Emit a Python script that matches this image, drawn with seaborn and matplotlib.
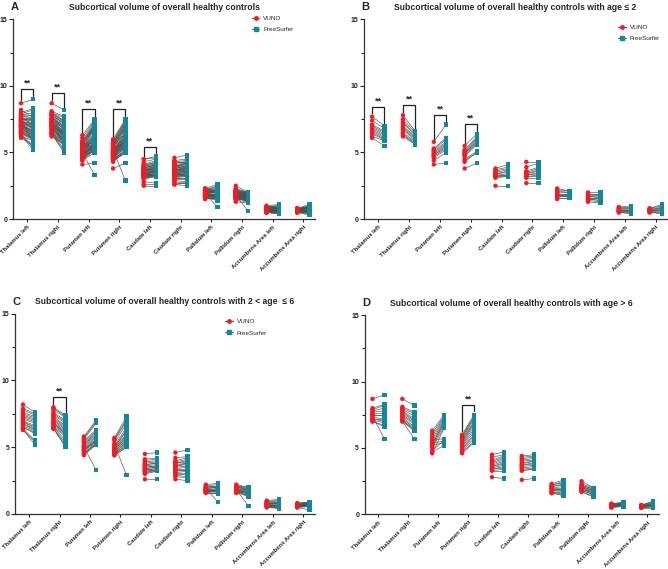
import numpy as np
import pandas as pd
import matplotlib.pyplot as plt
import seaborn as sns
from matplotlib.lines import Line2D
from matplotlib.ticker import MultipleLocator

# Paired subcortical volumes, VUNO vs FreeSurfer, one row per region
regions = ['Thalamus left', 'Thalamus right', 'Putamen left', 'Putamen right',
           'Caudate left', 'Caudate right', 'Pallidum left', 'Pallidum right',
           'Accumbens Area left', 'Accumbens Area right']

# age <= 2
vuno_b = [
    [7.7, 7.4, 7.1, 7.0, 6.9, 6.8, 6.7, 6.6, 6.5, 6.4, 6.2, 6.1],
    [7.8, 7.5, 7.3, 7.2, 7.0, 6.9, 6.8, 6.7, 6.5, 6.4, 6.3, 6.2],
    [5.8, 5.3, 5.2, 5.1, 5.0, 4.9, 4.8, 4.8, 4.7, 4.6, 4.4, 4.1],
    [5.5, 5.2, 5.1, 5.0, 4.9, 4.9, 4.8, 4.7, 4.5, 4.4, 4.3, 3.8],
    [3.8, 3.7, 3.6, 3.5, 3.4, 3.4, 3.3, 3.3, 3.2, 3.2, 3.1, 2.5],
    [4.3, 3.9, 3.6, 3.5, 3.4, 3.4, 3.3, 3.3, 3.2, 3.2, 3.1, 2.7],
    [2.3, 2.2, 2.1, 2.0, 1.9, 1.9, 1.8, 1.8, 1.7, 1.7, 1.6, 1.5],
    [2.0, 1.9, 1.9, 1.8, 1.7, 1.7, 1.6, 1.6, 1.5, 1.5, 1.4, 1.3],
    [0.9, 0.85, 0.8, 0.75, 0.7, 0.7, 0.65, 0.6, 0.6, 0.55, 0.5, 0.5],
    [0.8, 0.8, 0.75, 0.7, 0.7, 0.65, 0.6, 0.6, 0.55, 0.55, 0.5, 0.5],
]
fs_b = [
    [7.0, 6.8, 6.6, 6.5, 6.4, 6.3, 6.2, 6.1, 6.0, 5.95, 5.9, 5.5],
    [6.6, 6.5, 6.4, 6.3, 6.2, 6.1, 6.0, 5.9, 5.8, 5.7, 5.65, 5.6],
    [7.1, 6.1, 6.0, 5.8, 5.7, 5.6, 5.5, 5.4, 5.3, 5.2, 5.0, 4.2],
    [6.4, 6.2, 6.1, 6.0, 5.9, 5.8, 5.7, 5.6, 5.1, 5.0, 5.0, 4.2],
    [4.1, 3.9, 3.8, 3.7, 3.6, 3.5, 3.4, 3.3, 3.3, 3.2, 3.2, 2.5],
    [4.3, 4.2, 3.9, 3.8, 3.7, 3.6, 3.5, 3.4, 3.3, 3.2, 3.1, 2.7],
    [2.1, 2.1, 2.0, 2.0, 1.9, 1.9, 1.8, 1.8, 1.7, 1.7, 1.6, 1.6],
    [2.0, 1.9, 1.8, 1.8, 1.7, 1.6, 1.6, 1.5, 1.4, 1.4, 1.3, 1.2],
    [1.0, 0.9, 0.85, 0.8, 0.75, 0.7, 0.65, 0.6, 0.55, 0.5, 0.45, 0.4],
    [1.1, 1.0, 0.9, 0.85, 0.8, 0.75, 0.7, 0.65, 0.6, 0.5, 0.45, 0.4],
]

# 2 < age <= 6
vuno_c = [
    [8.2, 7.9, 7.8, 7.6, 7.5, 7.4, 7.3, 7.2, 7.1, 7.0, 6.9, 6.9, 6.8, 6.7, 6.6, 6.5, 6.5, 6.4, 6.3, 6.3],
    [8.0, 7.9, 7.8, 7.6, 7.5, 7.4, 7.3, 7.2, 7.1, 7.0, 6.9, 6.8, 6.8, 6.7, 6.6, 6.5, 6.5, 6.4, 6.4, 6.4],
    [5.8, 5.7, 5.6, 5.5, 5.4, 5.3, 5.2, 5.2, 5.1, 5.0, 5.0, 4.9, 4.9, 4.8, 4.8, 4.7, 4.6, 4.5, 4.5, 4.4],
    [5.7, 5.6, 5.5, 5.3, 5.2, 5.1, 5.0, 5.0, 4.9, 4.9, 4.8, 4.8, 4.7, 4.7, 4.6, 4.6, 4.5, 4.5, 4.4, 4.4],
    [4.5, 4.1, 4.0, 3.9, 3.8, 3.7, 3.7, 3.6, 3.5, 3.5, 3.4, 3.4, 3.3, 3.3, 3.2, 3.2, 3.1, 3.1, 3.0, 2.6],
    [4.6, 4.2, 4.0, 3.9, 3.8, 3.8, 3.7, 3.6, 3.6, 3.5, 3.4, 3.4, 3.3, 3.2, 3.1, 3.1, 3.0, 2.9, 2.8, 2.6],
    [2.2, 2.1, 2.1, 2.0, 2.0, 1.9, 1.9, 1.9, 1.8, 1.8, 1.8, 1.8, 1.7, 1.7, 1.7, 1.7, 1.6, 1.6, 1.6, 1.6],
    [2.2, 2.1, 2.1, 2.0, 2.0, 2.0, 1.9, 1.9, 1.9, 1.8, 1.8, 1.8, 1.8, 1.7, 1.7, 1.7, 1.7, 1.6, 1.6, 1.6],
    [1.0, 0.95, 0.9, 0.9, 0.85, 0.8, 0.8, 0.75, 0.75, 0.7, 0.7, 0.7, 0.65, 0.65, 0.6, 0.6, 0.55, 0.55, 0.5, 0.5],
    [0.8, 0.8, 0.75, 0.75, 0.7, 0.7, 0.7, 0.65, 0.65, 0.65, 0.6, 0.6, 0.6, 0.6, 0.55, 0.55, 0.55, 0.5, 0.5, 0.5],
]
fs_c = [
    [7.6, 7.5, 7.4, 7.3, 7.2, 7.1, 7.0, 6.9, 6.8, 6.6, 6.5, 6.4, 6.3, 6.3, 6.2, 6.1, 6.0, 5.5, 5.4, 5.2],
    [7.4, 7.3, 7.2, 7.0, 6.9, 6.8, 6.6, 6.5, 6.4, 6.3, 6.2, 6.1, 6.0, 6.0, 5.9, 5.8, 5.5, 5.3, 5.1, 5.0],
    [7.0, 6.9, 6.8, 6.3, 6.2, 6.1, 6.0, 5.9, 5.8, 3.3, 5.7, 5.6, 5.5, 5.5, 5.4, 5.4, 5.3, 5.3, 5.2, 5.2],
    [7.3, 7.1, 7.0, 6.8, 2.9, 6.5, 6.3, 6.2, 6.0, 5.9, 5.8, 5.7, 5.6, 5.5, 5.4, 5.3, 5.2, 5.1, 5.0, 5.0],
    [4.6, 4.2, 4.1, 4.0, 3.9, 3.8, 3.8, 3.7, 3.6, 3.6, 3.5, 3.5, 3.4, 3.4, 3.3, 3.3, 3.3, 3.2, 3.2, 2.6],
    [4.8, 4.3, 4.2, 4.1, 4.0, 3.9, 3.8, 3.8, 3.7, 3.6, 3.5, 3.4, 3.3, 3.3, 3.2, 3.1, 3.0, 2.8, 2.7, 2.5],
    [2.3, 2.2, 2.1, 2.1, 2.0, 2.0, 2.0, 0.9, 1.9, 1.9, 1.8, 1.8, 1.8, 1.7, 1.7, 1.6, 1.6, 1.5, 1.5, 1.9],
    [2.0, 2.0, 1.9, 1.9, 1.9, 1.8, 1.8, 1.8, 1.7, 0.6, 1.7, 1.6, 1.6, 1.6, 1.5, 1.5, 1.4, 1.4, 1.3, 1.7],
    [1.1, 1.0, 0.95, 0.9, 0.85, 0.85, 0.8, 0.8, 0.75, 0.7, 0.7, 0.65, 0.65, 0.6, 0.6, 0.55, 0.5, 0.5, 0.45, 0.4],
    [0.9, 0.9, 0.85, 0.85, 0.8, 0.8, 0.8, 0.75, 0.75, 0.75, 0.7, 0.7, 0.7, 0.7, 0.65, 0.65, 0.6, 0.6, 0.55, 0.3],
]

# age > 6
vuno_d = [
    [8.7, 8.0, 7.9, 7.8, 7.7, 7.6, 7.5, 7.5, 7.4, 7.3, 7.2, 7.2, 7.1, 7.0, 7.0],
    [8.7, 8.1, 8.0, 7.9, 7.8, 7.7, 7.6, 7.5, 7.4, 7.3, 7.2, 7.1, 7.1, 7.0, 7.0],
    [6.3, 6.1, 5.9, 5.7, 5.6, 5.5, 5.4, 5.3, 5.3, 5.2, 5.1, 5.0, 4.8, 4.7, 4.6],
    [6.0, 5.9, 5.8, 5.7, 5.6, 5.5, 5.4, 5.3, 5.2, 5.1, 5.0, 4.9, 4.8, 4.7, 4.6],
    [4.5, 4.3, 4.1, 4.0, 3.9, 3.8, 3.7, 3.6, 3.6, 3.5, 3.4, 3.4, 3.3, 3.3, 2.8],
    [4.4, 4.3, 4.2, 4.1, 4.0, 3.9, 3.8, 3.7, 3.7, 3.6, 3.5, 3.4, 3.3, 3.3, 2.6],
    [2.3, 2.2, 2.2, 2.1, 2.1, 2.0, 2.0, 1.9, 1.9, 1.8, 1.8, 1.7, 1.7, 1.6, 1.6],
    [2.5, 2.3, 2.2, 2.2, 2.1, 2.1, 2.0, 2.0, 1.9, 1.9, 1.9, 1.8, 1.8, 1.7, 1.7],
    [0.8, 0.8, 0.75, 0.75, 0.7, 0.7, 0.7, 0.65, 0.65, 0.6, 0.6, 0.6, 0.55, 0.55, 0.5],
    [0.7, 0.7, 0.7, 0.65, 0.65, 0.65, 0.6, 0.6, 0.6, 0.55, 0.55, 0.55, 0.5, 0.5, 0.5],
]
fs_d = [
    [9.0, 8.3, 8.2, 8.0, 7.8, 7.6, 7.5, 7.4, 5.7, 7.2, 7.1, 7.0, 6.9, 6.7, 6.6],
    [8.2, 7.7, 7.6, 7.4, 7.2, 7.1, 7.0, 6.9, 6.8, 6.6, 6.5, 6.4, 6.3, 6.3, 5.7],
    [7.5, 7.4, 7.3, 7.2, 5.7, 7.1, 5.5, 7.0, 6.9, 5.4, 6.8, 6.6, 5.6, 5.2, 6.5],
    [7.5, 7.4, 7.3, 7.2, 7.0, 6.9, 6.8, 6.6, 6.4, 6.2, 6.0, 5.9, 5.7, 5.5, 5.4],
    [4.7, 4.5, 4.4, 4.3, 4.2, 4.1, 4.0, 3.9, 3.8, 3.7, 3.6, 3.5, 3.4, 3.3, 2.7],
    [4.5, 4.4, 4.3, 4.2, 4.1, 4.0, 4.0, 3.9, 3.8, 3.7, 3.6, 3.5, 3.4, 3.4, 2.7],
    [2.6, 2.5, 2.4, 2.3, 2.2, 2.1, 2.0, 1.9, 1.9, 1.8, 1.7, 1.6, 1.5, 1.5, 1.4],
    [2.0, 2.0, 1.9, 1.9, 1.8, 1.8, 1.8, 1.7, 1.7, 1.6, 1.6, 1.5, 1.5, 1.4, 1.3],
    [0.9, 0.9, 0.85, 0.85, 0.8, 0.8, 0.8, 0.75, 0.75, 0.7, 0.7, 0.7, 0.65, 0.65, 0.6],
    [1.0, 0.95, 0.9, 0.85, 0.8, 0.8, 0.75, 0.75, 0.7, 0.7, 0.65, 0.6, 0.6, 0.55, 0.5],
]

# overall = all age groups pooled
vuno_a = [b + c + d for b, c, d in zip(vuno_b, vuno_c, vuno_d)]
fs_a = [b + c + d for b, c, d in zip(fs_b, fs_c, fs_d)]

titles = ['Subcortical volume of overall healthy controls',
          'Subcortical volume of overall healthy controls with age \u2264 2',
          'Subcortical volume of overall healthy controls with 2 < age  \u2264 6',
          'Subcortical volume of overall healthy controls with age > 6']
letters = ['A', 'B', 'C', 'D']
significant = [[0, 1, 2, 3, 4], [0, 1, 2, 3], [1], [3]]

RED = '#ee1c25'
TEAL = '#16879a'

sns.set_style('ticks')
plt.rcParams['font.family'] = ['Liberation Sans', 'DejaVu Sans']


def long_frame(vuno, fs):
    rows = []
    for r, (vl, fl) in enumerate(zip(vuno, fs)):
        for s, (v, f) in enumerate(zip(vl, fl)):
            rows.append({'pair': f'{r}_{s}', 'method': 'VUNO', 'x': r - 0.2, 'value': v})
            rows.append({'pair': f'{r}_{s}', 'method': 'FreeSurfer', 'x': r + 0.2, 'value': f})
    return pd.DataFrame(rows)


fig = plt.figure(figsize=(6.68, 5.69), dpi=100)
positions = [[0.0195, 0.615, 0.452, 0.351],
             [0.545, 0.615, 0.453, 0.351],
             [0.0225, 0.0967, 0.449, 0.352],
             [0.546, 0.096, 0.440, 0.350]]
panels = [(vuno_a, fs_a), (vuno_b, fs_b), (vuno_c, fs_c), (vuno_d, fs_d)]

for i, (vuno, fs) in enumerate(panels):
    ax = fig.add_axes(positions[i])
    df = long_frame(vuno, fs)
    sns.lineplot(data=df, x='x', y='value', units='pair', estimator=None,
                 color='#505050', lw=0.45, ax=ax, legend=False)
    sns.scatterplot(data=df, x='x', y='value', hue='method', style='method',
                    palette={'VUNO': RED, 'FreeSurfer': TEAL},
                    markers={'VUNO': 'o', 'FreeSurfer': 's'},
                    s=10, linewidth=0, ax=ax, legend=False, zorder=3)

    # significance brackets
    for r in significant[i]:
        top = max(max(vuno[r]), max(fs[r])) + 0.75
        left_end = max(vuno[r]) + 0.25
        right_end = max(fs[r]) + 0.25
        ax.plot([r - 0.2, r - 0.2, r + 0.2, r + 0.2],
                [left_end, top, top, right_end], color='#222222', lw=0.9)
        ax.text(r, top + 0.1, '**', ha='center', va='bottom',
                fontsize=6.5, fontweight='bold')

    ax.set_xlim(-0.46, 9.38 if i != 1 else 9.35)
    ax.set_ylim(0, 15)
    ax.set_xticks(range(len(regions)))
    ax.set_xticklabels(regions, rotation=45, ha='right', rotation_mode='anchor',
                       fontsize=4.2, fontweight='bold')
    ax.set_yticks([0, 5, 10, 15])
    ax.yaxis.set_minor_locator(MultipleLocator(2.5))
    ax.tick_params(axis='y', labelsize=5, length=3, width=0.8, pad=1)
    ax.tick_params(axis='y', which='minor', length=2, width=0.8)
    ax.tick_params(axis='x', length=2.5, width=0.8, pad=1.5)
    for lab in ax.get_yticklabels():
        lab.set_fontweight('bold')
    ax.set_xlabel('')
    ax.set_ylabel('')
    sns.despine(ax=ax)
    for sp in ['left', 'bottom']:
        ax.spines[sp].set_linewidth(0.9)
        ax.spines[sp].set_color('#333333')

    ax.set_title(titles[i], fontsize=6.2, fontweight='bold', pad=7)
    ax.text(-0.008, 1.035, letters[i], transform=ax.transAxes, fontsize=8,
            fontweight='bold', ha='left', va='bottom')

    if i < 3:
        handles = [Line2D([0], [0], color=RED, marker='o', markersize=2.5, lw=0.8),
                   Line2D([0], [0], color=TEAL, marker='s', markersize=2.5, lw=0.8)]
        anchor = [(0.78, 1.035), (0.83, 0.99), (0.69, 0.99)][i]
        ax.legend(handles, ['VUNO', 'FreeSurfer'], loc='upper left',
                  bbox_to_anchor=anchor, frameon=False, fontsize=4.6,
                  handlelength=1.2, handletextpad=0.6, labelspacing=0.9,
                  borderpad=0)

fig.savefig('out.png', dpi=100)
